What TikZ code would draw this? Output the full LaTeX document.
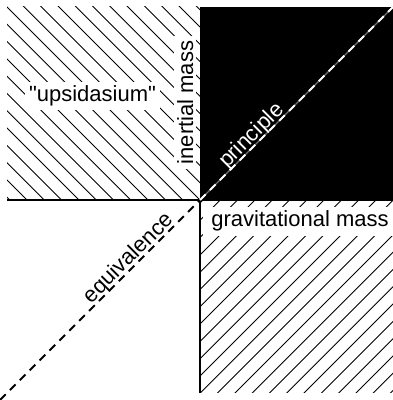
\documentclass[tikz,border=0pt]{standalone}
\usepackage{fontspec}
\setmainfont{Liberation Sans}[Ligatures=TeXOff]
\begin{document}
\begin{tikzpicture}[x=1pt,y=1pt,
  hatchline/.style={line width=0.9pt},
  axisline/.style={line width=2.4pt},
  dashline/.style={line width=2pt,dash pattern=on 8pt off 6pt},
  lbl/.style={font=\fontsize{22}{24}\selectfont,inner sep=0pt},
  lblbox/.style={lbl,fill=white,inner xsep=4pt,inner ysep=4pt}]
\useasboundingbox (0,0) rectangle (393,400);
\fill[white] (0,0) rectangle (393,400);
\coordinate (O) at (200,200);
\coordinate (BL) at (0,0);
\coordinate (TR) at (393,393);
\coordinate (L) at (7,200);
\coordinate (R) at (393,200);
\coordinate (B) at (200,7);
% top-left hatching
\begin{scope}
  \clip (7,200) rectangle (200,393);
  \foreach \k in {-13,...,13}{
    \pgfmathsetmacro{\c}{400+17.3*\k}
    \draw[hatchline] (\c-400,400) -- (\c,0);
  }
\end{scope}
% bottom-right hatching
\begin{scope}
  \clip (200,7) rectangle (393,200);
  \foreach \k in {-2,...,24}{
    \pgfmathsetmacro{\d}{3+17.3*\k}
    \draw[hatchline] (\d,0) -- (\d+400,400);
  }
\end{scope}
% black quadrant
\fill[black] (O) rectangle (TR);
% axes
\draw[axisline] (L) -- (R);
\draw[axisline] (B) -- (O);
% diagonal
\draw[dashline,black] (BL) -- (O);
\draw[line width=1.4pt,black!55] (O) -- (TR);
\draw[dashline,white] (O) -- (TR);
% labels
\node[lblbox,anchor=base] (up) at (92.5,298.5) {"upsidasium"};
\node[lblbox,anchor=base,rotate=90,inner xsep=5pt,inner ysep=3pt] (inert) at (193,297.5) {inertial mass};
\node[lblbox,anchor=base,inner xsep=8pt] (grav) at (300,173) {gravitational mass};
\node[lbl,text=white,rotate=45] (princ) at (252,264) {principle};
\node[lbl,rotate=45] (equiv) at (129,141.5) {equivalence};
\end{tikzpicture}
\end{document}
